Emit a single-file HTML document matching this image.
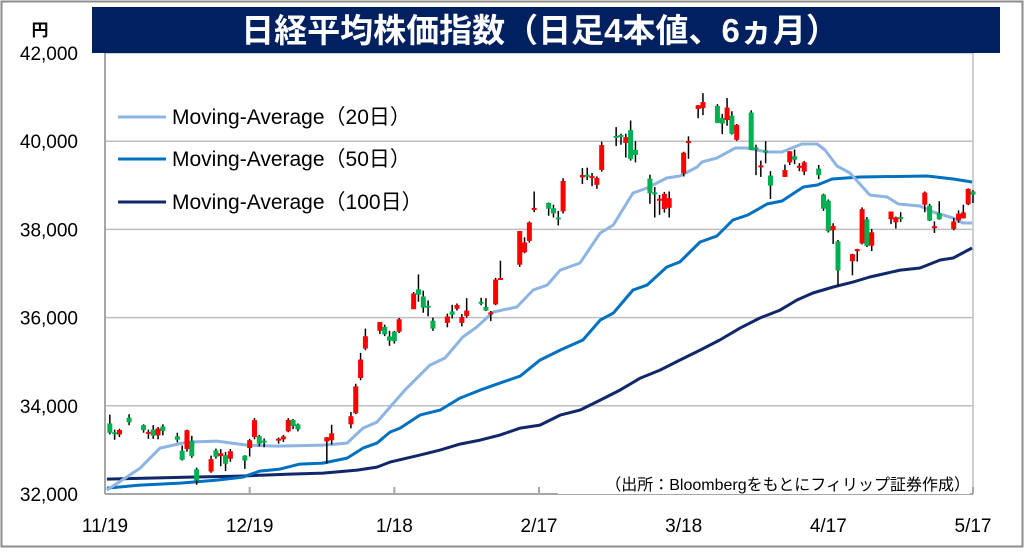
<!DOCTYPE html>
<html><head><meta charset="utf-8">
<style>
html,body{margin:0;padding:0;background:#fff;}
body{width:1024px;height:548px;overflow:hidden;font-family:"Liberation Sans","Noto Sans CJK JP",sans-serif;}
</style></head>
<body>
<svg id="chart" width="1024" height="548" xmlns="http://www.w3.org/2000/svg" font-family="Liberation Sans, Noto Sans CJK JP, sans-serif">
<rect x="1.5" y="1.5" width="1021" height="545" fill="#fff" stroke="#8c8c8c" stroke-width="2"/>
<g id="grid"></g>
<g id="ma"></g>
<g id="candles"></g>
<rect x="92" y="7" width="908" height="46" fill="#002060"/>
<text x="540" y="42" text-anchor="middle" fill="#fff" font-size="33" font-weight="bold">日経平均株価指数（日足4本値、6ヵ月）</text>
<text x="40" y="36" text-anchor="middle" font-size="17" font-weight="bold">円</text>
<g id="yticks"></g>
<g id="xticks"></g>
<g>
 <g><line x1="118" y1="117" x2="166" y2="117" stroke="#8db4e2" stroke-width="3"/><text x="172" y="124" font-size="21">Moving-Average（20日）</text></g>
 <g><line x1="118" y1="159" x2="166" y2="159" stroke="#0070c0" stroke-width="3"/><text x="172" y="166" font-size="21">Moving-Average（50日）</text></g>
 <g><line x1="118" y1="202" x2="166" y2="202" stroke="#10286a" stroke-width="3"/><text x="172" y="209" font-size="21">Moving-Average（100日）</text></g>
</g>
<rect x="558" y="472" width="412" height="22" fill="#fff"/>
<text x="970" y="490" text-anchor="end" font-size="16">（出所：Bloombergをもとにフィリップ証券作成）</text>
</svg>
<script>
const days=[1,2,3,5,8,9,10,11,12,15,16,17,18,19,22,23,24,25,26,29,30,31,32,33,36,37,38,39,40,46,47,51,52,53,54,57,58,59,60,61,64,65,66,67,68,71,72,73,74,75,78,79,80,81,82,86,87,88,89,92,93,94,95,99,100,101,102,103,106,107,108,109,110,113,114,115,116,117,120,121,123,124,127,128,129,130,131,134,135,136,137,138,141,142,143,144,145,148,149,150,151,152,155,156,157,158,159,163,164,165,170,171,172,173,176,177,178,179,180];
const opens=[33600,33400,33350,33730,33560,33370,33460,33330,33530,33310,32980,33020,33210,32560,32510,32990,32860,32880,32800,32870,33040,33290,33310,33210,33220,33240,33420,33680,33580,33190,33220,33580,33830,34630,35300,35700,35790,35570,35680,35680,36190,36640,36480,36270,35930,35880,36140,36200,35880,36040,36360,36240,36110,36300,36880,37200,37480,37740,38440,38600,38480,38270,38410,39180,39240,39200,39010,39350,40120,40140,39960,40250,39800,39150,38840,38650,38460,38490,39270,39990,40730,40750,40800,40530,40480,40580,40030,40650,39860,39450,39790,39220,39190,39520,39660,39400,39310,39380,38790,38650,37980,37730,37280,37540,37680,38230,37630,38230,38160,38280,38560,38540,38070,38370,38010,38210,38250,38570,38860];
const highs=[33800,33460,33480,33810,33580,33460,33560,33520,33580,33390,33100,33460,33320,32600,32870,33030,33020,32950,33020,32880,33250,33720,33340,33260,33280,33340,33720,33700,33600,33290,33570,33860,34500,35200,35750,35900,35840,35700,35700,35990,36580,36980,36610,36390,36000,36090,36290,36320,36080,36440,36450,36440,36150,36900,37290,37960,37820,38180,38860,38610,38560,38420,39160,39390,39400,39280,39200,39990,40320,40170,40170,40470,40000,39240,38960,38780,38850,38860,39760,40110,40820,41090,40840,40620,40980,40680,40390,40700,39920,39560,40000,39320,39470,39770,39810,39500,39550,39460,38810,38680,38140,37760,37450,37560,38500,38280,38010,38400,38290,38390,38860,38580,38180,38640,38260,38430,38560,38930,38890];
const lows=[33350,33230,33290,33560,33390,33250,33250,33240,33330,33170,32760,32960,32820,32210,32480,32800,32630,32520,32730,32570,32850,33240,33080,33060,33140,33180,33400,33470,33420,32690,33120,33490,33810,34580,35260,35630,35580,35360,35410,35650,36190,36360,36110,36030,35700,35780,35980,36160,35800,36000,36280,36150,35920,36280,36860,37150,37460,37700,38390,38310,38270,38090,38360,39030,39120,38980,38920,39310,39890,39920,39630,39560,39520,38580,38270,38330,38380,38270,39200,39600,40520,40590,40410,40160,40350,40150,40010,39800,39230,39190,39500,38690,39190,39460,39480,39320,39230,39140,38420,37930,37670,36730,36960,37270,37660,37600,37510,38120,38020,38170,38390,38190,37920,38220,37980,38150,38250,38550,38600];
const closes=[33388,33354,33451,33625,33447,33408,33321,33486,33431,33231,32775,33445,32858,32307,32791,32843,32926,32686,32970,32758,33219,33675,33140,33169,33254,33305,33681,33539,33464,33288,33377,33763,34441,35049,35577,35901,35619,35477,35466,35963,36546,36517,36226,36236,35751,36026,36065,36286,36011,36158,36354,36160,36119,36863,36897,37963,37703,38157,38487,38470,38363,38262,39098,39233,39239,39208,39166,39910,40109,40097,40090,39598,39688,38820,38797,38695,38807,38707,39740,40003,40815,40888,40414,40398,40762,40168,40369,39803,39838,39451,39773,38992,39347,39773,39581,39442,39523,39232,38471,37961,38079,37068,37438,37552,38460,37628,37934,38405,38274,38236,38835,38202,38073,38229,38179,38356,38385,38920,38787];
const ma20Days=[0.4,7.3,11.4,17,23.2,29.4,35.7,45.2,50.2,53.5,56.4,59.1,62.2,67.4,70.5,74.2,77.1,80.5,85.4,88.8,91.7,94.4,98.5,102.7,105.4,109.5,112.4,116.5,119.2,122.8,123.8,126.9,130.7,133.1,137.3,140.4,141.4,144.5,147.7,149.3,151.8,154.5,158.6,162.2,164.5,169,171.7,175.9,177.9,179.8];
const ma20Vals=[32089,32588,33041,33177,33200,33109,33087,33109,33155,33495,33631,33971,34357,34924,35083,35559,35786,36126,36240,36625,36738,37078,37237,37918,38099,38825,38938,39165,39210,39414,39528,39619,39845,39845,39755,39755,39800,39936,39936,39800,39437,39278,38779,38734,38575,38530,38394,38258,38144,38144];
const ma50Days=[0.4,7.3,15.6,23.2,28.6,32.1,36.3,40.4,45.2,50.2,53.5,56.4,59.1,61.2,65.3,69.5,73.6,77.8,81.9,86.1,90.2,94.4,99.1,102.7,105.4,109.5,112.4,116.5,119.2,123.4,126.9,130.2,133.3,137.3,140.4,144.8,147.7,150.8,156.6,170.5,175.9,179.8];
const ma50Vals=[32134,32202,32248,32316,32384,32520,32565,32679,32701,32815,33041,33155,33404,33495,33790,33903,34175,34357,34515,34674,35037,35264,35491,35944,36103,36625,36738,37147,37260,37714,37850,38213,38326,38575,38643,38961,39006,39142,39188,39210,39142,39074];
const ma100Days=[0.4,17.6,28,38.4,45.2,52.3,56.4,59.1,65.3,69.5,73.6,77.8,81.9,86.1,90.2,94.4,98.5,102.7,106.8,111,115.1,119.2,123.4,127.5,131.7,135.8,140,143.5,146.8,151,155.1,158.6,164.9,169,173.2,175.9,179.8];
const ma100Vals=[32338,32384,32406,32452,32474,32542,32610,32724,32883,32996,33132,33223,33336,33495,33563,33790,33903,34130,34357,34629,34810,35037,35264,35491,35763,35990,36171,36398,36557,36693,36806,36920,37078,37124,37306,37351,37578];
const yTicks=[32000,34000,36000,38000,40000,42000];
const xTickDays=[0,30,60,90,120,150,180];
const xTickLabels=["11/19","12/19","1/18","2/17","3/18","4/17","5/17"];

const NS="http://www.w3.org/2000/svg";
const X0=105,X1=973,Y0=494,Y1=53,VMIN=32000,VMAX=42000,DMAX=180;
const xs=d=>X0+d/DMAX*(X1-X0);
const ys=v=>Y0-(v-VMIN)/(VMAX-VMIN)*(Y0-Y1);
function mk(tag,attrs,parent){const e=document.createElementNS(NS,tag);for(const k in attrs)e.setAttribute(k,attrs[k]);parent.appendChild(e);return e;}
const grid=document.getElementById('grid');
yTicks.forEach(v=>{
  const l=mk('line',{x1:X0,x2:X1,y1:ys(v),y2:ys(v),stroke:'#bfbfbf','stroke-width':1.5},grid);
  
  
  const t=mk('text',{x:78,y:ys(v)+7,'text-anchor':'end','font-size':19},document.getElementById('yticks'));
  t.textContent=v.toLocaleString('en-US');
  
  
});
const ax=mk('line',{x1:X0,x2:X0,y1:Y1,y2:Y0,stroke:'#a6a6a6','stroke-width':2},grid);


const ax2=mk('line',{x1:X1,x2:X1,y1:Y1,y2:Y0,stroke:'#bfbfbf','stroke-width':1.5},grid);


const xa=mk('line',{x1:X0,x2:X1,y1:Y0,y2:Y0,stroke:'#a6a6a6','stroke-width':2},grid);


xTickDays.forEach((d,i)=>{
  const tk=mk('line',{x1:xs(d),x2:xs(d),y1:Y0-7,y2:Y0,stroke:'#a6a6a6','stroke-width':2},grid);
  
  
  const t=mk('text',{x:xs(d),y:532,'text-anchor':'middle','font-size':19},document.getElementById('xticks'));
  t.textContent=xTickLabels[i];
  
  
});
const ma=document.getElementById('ma');
function line(ds,vs,color,name){
  const p=mk('polyline',{points:ds.map((d,i)=>xs(d).toFixed(1)+','+ys(vs[i]).toFixed(1)).join(' '),fill:'none',stroke:color,'stroke-width':3,'stroke-linejoin':'round'},ma);
  
  
}
line(ma100Days,ma100Vals,'#10286a','ma100-line');
line(ma50Days,ma50Vals,'#0070c0','ma50-line');
line(ma20Days,ma20Vals,'#8db4e2','ma20-line');
const cg=document.getElementById('candles');
days.forEach((d,i)=>{
  const x=xs(d),o=opens[i],c=closes[i];
  const g=mk('g',{},cg);
  
  
  mk('line',{x1:x,x2:x,y1:ys(highs[i]),y2:ys(lows[i]),stroke:'#000','stroke-width':1.5},g);
  const top=ys(Math.max(o,c)),bot=ys(Math.min(o,c));
  mk('rect',{x:x-2.5,y:top,width:5,height:Math.max(2,bot-top),fill:c>=o?'#ff0000':'#00b050'},g);
});
</script>
</body></html>
